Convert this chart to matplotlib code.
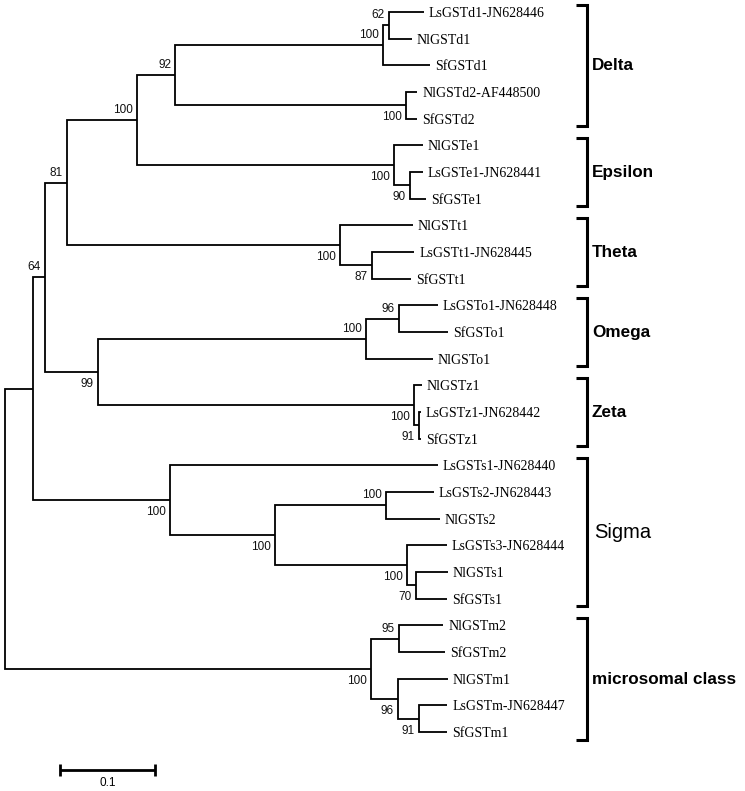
import matplotlib
matplotlib.use("Agg")
import matplotlib.pyplot as plt

# ---------------- data ----------------
node_names = [
    "root", "n1", "n2", "n3", "n4", "n5", "n6", "n7",
    "LsGSTd1-JN628446", "NlGSTd1", "SfGSTd1",
    "n8", "NlGSTd2-AF448500", "SfGSTd2",
    "n9", "NlGSTe1", "n10", "LsGSTe1-JN628441", "SfGSTe1",
    "n11", "NlGSTt1", "n12", "LsGSTt1-JN628445", "SfGSTt1",
    "n13", "n14", "n15", "LsGSTo1-JN628448", "SfGSTo1", "NlGSTo1",
    "n16", "NlGSTz1", "n17", "LsGSTz1-JN628442", "SfGSTz1",
    "n18", "LsGSTs1-JN628440", "n19", "n20", "LsGSTs2-JN628443", "NlGSTs2",
    "n21", "LsGSTs3-JN628444", "n22", "NlGSTs1", "SfGSTs1",
    "n23", "n24", "NlGSTm2", "SfGSTm2", "n25", "NlGSTm1", "n26",
    "LsGSTm-JN628447", "SfGSTm1",
]
node_parents = [
    None, "root", "n1", "n2", "n3", "n4", "n5", "n6",
    "n7", "n7", "n6",
    "n5", "n8", "n8",
    "n4", "n9", "n9", "n10", "n10",
    "n3", "n11", "n11", "n12", "n12",
    "n2", "n13", "n14", "n15", "n15", "n14",
    "n13", "n16", "n16", "n17", "n17",
    "n1", "n18", "n18", "n19", "n20", "n20",
    "n19", "n21", "n21", "n22", "n22",
    "root", "n23", "n24", "n24", "n23", "n25", "n25",
    "n26", "n26",
]
branch_lengths = [
    0.0, 0.0295, 0.0126, 0.0232, 0.0737, 0.0400, 0.2189, 0.0063,
    0.0368, 0.0242, 0.0495,
    0.2432, 0.0116, 0.0116,
    0.2705, 0.0305, 0.0168, 0.0137, 0.0168,
    0.2874, 0.0768, 0.0337, 0.0442, 0.0411,
    0.0558, 0.2821, 0.0347, 0.0411, 0.0516, 0.0705,
    0.3326, 0.0084, 0.0053, 0.0021, 0.0021,
    0.1442, 0.2821, 0.1105, 0.1168, 0.0505, 0.0568,
    0.1389, 0.0421, 0.0095, 0.0337, 0.0326,
    0.3853, 0.0295, 0.0463, 0.0484, 0.0284, 0.0526, 0.0221,
    0.0295, 0.0295,
]
bootstrap = [
    None, None, 64, 81, 100, 92, 100, 62,
    None, None, None,
    100, None, None,
    100, None, 90, None, None,
    100, None, 87, None, None,
    99, 100, 96, None, None, None,
    100, None, 91, None, None,
    100, None, 100, 100, None, None,
    100, None, 70, None, None,
    100, 95, None, None, 96, None, 91,
    None, None,
]
clade_names = ["Delta", "Epsilon", "Theta", "Omega", "Zeta", "Sigma", "microsomal class"]
clade_first = ["LsGSTd1-JN628446", "NlGSTe1", "NlGSTt1", "LsGSTo1-JN628448",
               "NlGSTz1", "LsGSTs1-JN628440", "NlGSTm2"]
clade_last = ["SfGSTd2", "SfGSTe1", "SfGSTt1", "NlGSTo1",
              "SfGSTz1", "SfGSTs1", "SfGSTm1"]
scale_length = 0.1
scale_label = "0.1"

# ---------------- layout ----------------
children = {n: [] for n in node_names}
for n, p in zip(node_names, node_parents):
    if p is not None:
        children[p].append(n)
blen = dict(zip(node_names, branch_lengths))
boot = dict(zip(node_names, bootstrap))
parent = dict(zip(node_names, node_parents))

xpos, ypos = {}, {}
leaf_counter = [0]

def layout(n, x):
    xpos[n] = x
    if not children[n]:
        ypos[n] = leaf_counter[0]
        leaf_counter[0] += 1
        return
    for c in children[n]:
        layout(c, x + blen[c])
    ypos[n] = (ypos[children[n][0]] + ypos[children[n][-1]]) / 2.0

layout("root", 0.0)

W, H = 745, 791
fig = plt.figure(figsize=(W / 100, H / 100), dpi=100)
ax = fig.add_axes([0, 0, 1, 1])
px_per_unit = 950.0
px_per_leaf = 26.67
ax.set_xlim(-5 / px_per_unit, (W - 5) / px_per_unit)
ax.set_ylim((H - 12) / px_per_leaf, -12 / px_per_leaf)
ax.axis("off")

tree_lw = 1.3
for n in node_names:
    ch = children[n]
    if not ch:
        continue
    xs = [xpos[ch[0]], xpos[n], xpos[n], xpos[ch[-1]]]
    ys = [ypos[ch[0]], ypos[ch[0]], ypos[ch[-1]], ypos[ch[-1]]]
    ax.plot(xs, ys, color="black", lw=tree_lw, solid_joinstyle="miter",
            solid_capstyle="butt")
    for c in ch[1:-1]:
        ax.plot([xpos[n], xpos[c]], [ypos[c], ypos[c]], color="black", lw=tree_lw)

# leaf labels
for n in node_names:
    if not children[n]:
        ax.annotate(n, (xpos[n], ypos[n]), xytext=(3.6, 0), textcoords="offset points",
                    ha="left", va="center_baseline", fontsize=10,
                    family="Liberation Serif", color="black")

# bootstrap labels
for n in node_names:
    b = boot[n]
    if b is None:
        continue
    p = parent[n]
    first = children[p][0] == n
    dy = 7.2 if first else -8.6
    ax.annotate(str(b), (xpos[n], ypos[n]), xytext=(-2.9, dy), textcoords="offset points",
                ha="right", va="center", fontsize=8.5, family="Liberation Sans",
                color="#111111")

# clade brackets
bx = (587 - 5) / px_per_unit
tick = 11 / px_per_unit
for name, f, l in zip(clade_names, clade_first, clade_last):
    y0 = ypos[f] - 0.27
    y1 = ypos[l] + 0.29
    ax.plot([bx - tick, bx, bx, bx - tick], [y0, y0, y1, y1], color="black", lw=2.2,
            solid_joinstyle="miter", solid_capstyle="butt")
    if name == "Sigma":
        ax.text(bx + 7 / px_per_unit, (y0 + y1) / 2, name, ha="left", va="center",
                fontsize=14.5, family="Liberation Sans")
    else:
        ax.text(bx + 5 / px_per_unit, (y0 + y1) / 2, name, ha="left", va="center",
                fontsize=12.3, fontweight="bold", family="Liberation Sans")

# scale bar
sx0 = (60 - 5) / px_per_unit
sy = (770 - 12) / px_per_leaf
ax.plot([sx0, sx0 + scale_length], [sy, sy], color="black", lw=2.0, solid_capstyle="butt")
for sx in (sx0, sx0 + scale_length):
    ax.plot([sx, sx], [sy - 0.22, sy + 0.22], color="black", lw=2.0, solid_capstyle="butt")
ax.text(sx0 + scale_length / 2, sy + 0.5, scale_label, ha="center", va="center",
        fontsize=8.5, family="Liberation Sans")

fig.savefig("out.png", dpi=100, facecolor="white")
